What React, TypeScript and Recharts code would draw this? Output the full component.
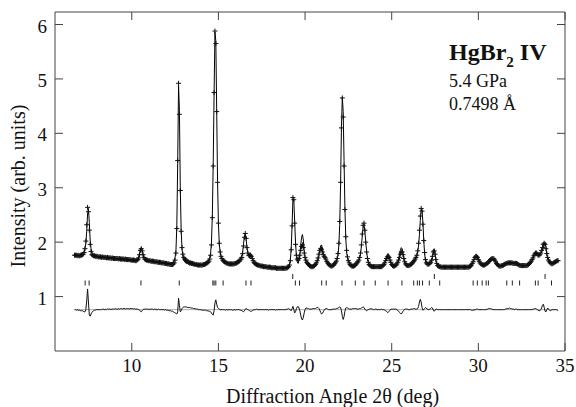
import { ComposedChart, Line, Scatter, XAxis, YAxis, ReferenceLine } from "recharts";

// 2-theta grid of the scan: 6.70 ... 34.60 deg, 0.05 deg steps (one row = 1 deg)
const X_START = 6.7;
const X_STEP = 0.05;

const observed = [
  1.76, 1.76, 1.76, 1.75, 1.76, 1.75, 1.75, 1.76, 1.76, 1.77, 1.78, 1.81, 1.88, 2.02, 2.32, 2.64, 2.56, 2.22, 1.96, 1.83,
  1.77, 1.76, 1.75, 1.75, 1.74, 1.74, 1.74, 1.73, 1.73, 1.73, 1.73, 1.72, 1.73, 1.72, 1.72, 1.72, 1.72, 1.71, 1.72, 1.71,
  1.71, 1.71, 1.71, 1.7, 1.71, 1.7, 1.7, 1.7, 1.7, 1.7, 1.7, 1.69, 1.7, 1.69, 1.69, 1.69, 1.69, 1.69, 1.68, 1.69,
  1.68, 1.68, 1.68, 1.68, 1.68, 1.67, 1.67, 1.67, 1.67, 1.67, 1.66, 1.66, 1.67, 1.68, 1.71, 1.77, 1.85, 1.88, 1.84, 1.77,
  1.72, 1.69, 1.68, 1.67, 1.67, 1.66, 1.66, 1.66, 1.65, 1.65, 1.65, 1.65, 1.64, 1.64, 1.64, 1.64, 1.63, 1.63, 1.63, 1.63,
  1.62, 1.62, 1.62, 1.62, 1.61, 1.61, 1.61, 1.6, 1.6, 1.6, 1.59, 1.59, 1.59, 1.59, 1.6, 1.62, 1.67, 1.8, 2.25, 3.5,
  4.92, 4.35, 2.95, 2.2, 1.9, 1.78, 1.72, 1.69, 1.67, 1.66, 1.65, 1.64, 1.63, 1.62, 1.62, 1.61, 1.61, 1.6, 1.6, 1.59,
  1.59, 1.59, 1.58, 1.58, 1.58, 1.58, 1.58, 1.58, 1.58, 1.59, 1.59, 1.6, 1.61, 1.62, 1.63, 1.65, 1.69, 1.76, 1.95, 2.45,
  3.4, 4.75, 5.88, 5.65, 4.4, 3.1, 2.35, 1.98, 1.82, 1.74, 1.7, 1.67, 1.65, 1.64, 1.63, 1.62, 1.61, 1.61, 1.6, 1.6,
  1.6, 1.6, 1.6, 1.6, 1.6, 1.61, 1.61, 1.62, 1.63, 1.64, 1.65, 1.67, 1.69, 1.72, 1.79, 1.93, 2.09, 2.16, 2.07, 1.9,
  1.8, 1.76, 1.75, 1.76, 1.74, 1.7, 1.66, 1.63, 1.61, 1.6, 1.59, 1.58, 1.58, 1.57, 1.57, 1.56, 1.56, 1.56, 1.55, 1.55,
  1.55, 1.55, 1.54, 1.54, 1.54, 1.54, 1.54, 1.53, 1.53, 1.53, 1.53, 1.53, 1.53, 1.52, 1.52, 1.52, 1.52, 1.52, 1.52, 1.52,
  1.52, 1.52, 1.52, 1.52, 1.52, 1.53, 1.53, 1.55, 1.58, 1.66, 1.86, 2.3, 2.82, 2.78, 2.35, 1.96, 1.76, 1.69, 1.67, 1.7,
  1.76, 1.85, 1.92, 1.95, 1.9, 1.8, 1.72, 1.67, 1.63, 1.61, 1.59, 1.57, 1.56, 1.55, 1.55, 1.55, 1.56, 1.57, 1.59, 1.62,
  1.66, 1.71, 1.78, 1.85, 1.88, 1.87, 1.82, 1.77, 1.74, 1.72, 1.69, 1.65, 1.62, 1.6, 1.58, 1.57, 1.56, 1.56, 1.57, 1.58,
  1.6, 1.62, 1.65, 1.7, 1.79, 1.98, 2.38, 3.1, 4.1, 4.65, 4.3, 3.4, 2.6, 2.1, 1.85, 1.73, 1.66, 1.62, 1.59, 1.57,
  1.56, 1.56, 1.56, 1.57, 1.58, 1.6, 1.62, 1.64, 1.67, 1.72, 1.8, 1.95, 2.15, 2.31, 2.35, 2.22, 2.0, 1.82, 1.7, 1.63,
  1.59, 1.57, 1.56, 1.55, 1.55, 1.55, 1.55, 1.55, 1.55, 1.55, 1.55, 1.55, 1.55, 1.55, 1.55, 1.56, 1.57, 1.59, 1.62, 1.66,
  1.7, 1.73, 1.74, 1.72, 1.67, 1.63, 1.59, 1.57, 1.56, 1.56, 1.57, 1.58, 1.6, 1.63, 1.67, 1.72, 1.78, 1.82, 1.82, 1.77,
  1.7, 1.64, 1.6, 1.58, 1.57, 1.57, 1.57, 1.58, 1.59, 1.6, 1.62, 1.64, 1.66, 1.69, 1.72, 1.76, 1.84, 1.98, 2.22, 2.48,
  2.62, 2.57, 2.33, 2.03, 1.81, 1.68, 1.62, 1.6, 1.59, 1.6, 1.61, 1.63, 1.67, 1.74, 1.82, 1.84, 1.78, 1.68, 1.61, 1.57,
  1.56, 1.55, 1.55, 1.54, 1.54, 1.54, 1.54, 1.54, 1.54, 1.54, 1.54, 1.54, 1.54, 1.54, 1.54, 1.54, 1.54, 1.54, 1.54, 1.54,
  1.54, 1.54, 1.54, 1.54, 1.54, 1.54, 1.54, 1.54, 1.54, 1.54, 1.54, 1.54, 1.54, 1.54, 1.54, 1.54, 1.55, 1.56, 1.58, 1.61,
  1.64, 1.68, 1.72, 1.74, 1.74, 1.72, 1.68, 1.65, 1.62, 1.6, 1.59, 1.58, 1.58, 1.58, 1.59, 1.6, 1.61, 1.62, 1.64, 1.66,
  1.68, 1.69, 1.7, 1.7, 1.69, 1.67, 1.64, 1.61, 1.59, 1.57, 1.56, 1.56, 1.56, 1.57, 1.57, 1.58, 1.59, 1.6, 1.61, 1.61,
  1.62, 1.62, 1.62, 1.62, 1.62, 1.62, 1.61, 1.61, 1.61, 1.61, 1.61, 1.6, 1.59, 1.58, 1.57, 1.57, 1.57, 1.57, 1.57, 1.57,
  1.57, 1.57, 1.57, 1.58, 1.59, 1.61, 1.63, 1.65, 1.68, 1.71, 1.75, 1.78, 1.8, 1.8, 1.78, 1.76, 1.76, 1.77, 1.8, 1.85,
  1.9, 1.96, 1.98, 1.96, 1.88, 1.79, 1.72, 1.67, 1.64, 1.62, 1.61, 1.6, 1.61, 1.62, 1.63, 1.64, 1.65, 1.66, 1.66,
];

const calculated = [
  1.76, 1.76, 1.76, 1.75, 1.76, 1.75, 1.75, 1.76, 1.76, 1.77, 1.79, 1.82, 1.88, 1.98, 2.2, 2.52, 2.62, 2.36, 2.04, 1.88,
  1.8, 1.77, 1.76, 1.75, 1.74, 1.74, 1.74, 1.73, 1.73, 1.73, 1.73, 1.72, 1.72, 1.71, 1.72, 1.72, 1.71, 1.71, 1.71, 1.7,
  1.7, 1.7, 1.71, 1.69, 1.7, 1.69, 1.69, 1.68, 1.69, 1.69, 1.69, 1.67, 1.69, 1.67, 1.67, 1.68, 1.67, 1.67, 1.66, 1.68,
  1.66, 1.66, 1.66, 1.67, 1.66, 1.65, 1.65, 1.65, 1.66, 1.65, 1.65, 1.65, 1.66, 1.67, 1.71, 1.78, 1.88, 1.9, 1.85, 1.77,
  1.71, 1.68, 1.67, 1.66, 1.66, 1.65, 1.66, 1.65, 1.64, 1.64, 1.64, 1.65, 1.63, 1.63, 1.64, 1.64, 1.63, 1.62, 1.63, 1.63,
  1.62, 1.62, 1.62, 1.62, 1.62, 1.61, 1.62, 1.61, 1.61, 1.62, 1.61, 1.61, 1.62, 1.62, 1.64, 1.67, 1.72, 1.85, 2.3, 3.45,
  4.88, 4.42, 3.0, 2.22, 1.88, 1.74, 1.67, 1.64, 1.62, 1.61, 1.61, 1.6, 1.59, 1.58, 1.59, 1.58, 1.58, 1.58, 1.58, 1.57,
  1.58, 1.58, 1.57, 1.58, 1.58, 1.58, 1.58, 1.59, 1.59, 1.6, 1.6, 1.61, 1.63, 1.64, 1.65, 1.68, 1.72, 1.8, 2.0, 2.5,
  3.45, 4.72, 5.86, 5.7, 4.45, 3.12, 2.35, 1.97, 1.82, 1.74, 1.7, 1.67, 1.65, 1.64, 1.64, 1.62, 1.61, 1.62, 1.6, 1.6,
  1.6, 1.6, 1.61, 1.61, 1.6, 1.61, 1.62, 1.62, 1.63, 1.64, 1.65, 1.68, 1.7, 1.74, 1.82, 1.97, 2.11, 2.15, 2.05, 1.89,
  1.8, 1.77, 1.77, 1.79, 1.77, 1.72, 1.67, 1.63, 1.61, 1.6, 1.58, 1.58, 1.58, 1.57, 1.57, 1.56, 1.56, 1.56, 1.55, 1.55,
  1.55, 1.55, 1.54, 1.54, 1.55, 1.54, 1.54, 1.53, 1.53, 1.53, 1.53, 1.53, 1.54, 1.52, 1.52, 1.52, 1.52, 1.52, 1.52, 1.52,
  1.52, 1.52, 1.52, 1.52, 1.52, 1.52, 1.52, 1.53, 1.57, 1.67, 1.88, 2.3, 2.8, 2.78, 2.38, 2.0, 1.74, 1.64, 1.61, 1.67,
  1.78, 1.95, 2.09, 2.14, 2.04, 1.86, 1.72, 1.64, 1.6, 1.59, 1.57, 1.56, 1.55, 1.54, 1.54, 1.53, 1.54, 1.55, 1.57, 1.59,
  1.62, 1.67, 1.76, 1.86, 1.93, 1.95, 1.89, 1.81, 1.75, 1.71, 1.67, 1.63, 1.61, 1.6, 1.58, 1.57, 1.56, 1.56, 1.56, 1.57,
  1.59, 1.61, 1.63, 1.68, 1.76, 1.94, 2.33, 3.06, 4.12, 4.67, 4.4, 3.5, 2.63, 2.07, 1.81, 1.7, 1.64, 1.61, 1.58, 1.56,
  1.55, 1.54, 1.54, 1.55, 1.56, 1.58, 1.61, 1.63, 1.66, 1.7, 1.78, 1.92, 2.11, 2.28, 2.33, 2.21, 2.01, 1.84, 1.71, 1.63,
  1.58, 1.56, 1.54, 1.54, 1.54, 1.55, 1.55, 1.54, 1.54, 1.55, 1.55, 1.55, 1.55, 1.55, 1.54, 1.56, 1.57, 1.59, 1.63, 1.68,
  1.73, 1.78, 1.79, 1.75, 1.68, 1.62, 1.58, 1.56, 1.55, 1.55, 1.56, 1.57, 1.6, 1.64, 1.7, 1.77, 1.85, 1.9, 1.88, 1.8,
  1.71, 1.63, 1.59, 1.57, 1.56, 1.57, 1.57, 1.58, 1.58, 1.59, 1.61, 1.62, 1.64, 1.68, 1.71, 1.75, 1.82, 1.94, 2.14, 2.4,
  2.6, 2.59, 2.36, 2.03, 1.79, 1.64, 1.59, 1.59, 1.59, 1.6, 1.6, 1.61, 1.63, 1.71, 1.83, 1.87, 1.79, 1.67, 1.6, 1.57,
  1.56, 1.55, 1.55, 1.54, 1.54, 1.54, 1.54, 1.54, 1.54, 1.54, 1.54, 1.54, 1.54, 1.54, 1.54, 1.54, 1.54, 1.54, 1.54, 1.54,
  1.54, 1.54, 1.54, 1.54, 1.54, 1.54, 1.54, 1.54, 1.54, 1.54, 1.54, 1.54, 1.54, 1.54, 1.54, 1.54, 1.55, 1.56, 1.59, 1.62,
  1.65, 1.69, 1.72, 1.74, 1.73, 1.71, 1.68, 1.65, 1.62, 1.6, 1.59, 1.58, 1.58, 1.58, 1.59, 1.6, 1.6, 1.61, 1.62, 1.64,
  1.66, 1.68, 1.69, 1.7, 1.69, 1.67, 1.64, 1.61, 1.59, 1.57, 1.56, 1.56, 1.56, 1.57, 1.57, 1.58, 1.59, 1.59, 1.6, 1.59,
  1.6, 1.6, 1.59, 1.6, 1.6, 1.61, 1.6, 1.6, 1.61, 1.6, 1.6, 1.6, 1.59, 1.58, 1.57, 1.57, 1.57, 1.57, 1.57, 1.57,
  1.57, 1.57, 1.57, 1.58, 1.59, 1.6, 1.62, 1.63, 1.66, 1.7, 1.75, 1.79, 1.81, 1.8, 1.8, 1.79, 1.78, 1.79, 1.8, 1.82,
  1.84, 1.9, 1.97, 1.99, 1.92, 1.79, 1.69, 1.66, 1.65, 1.64, 1.62, 1.6, 1.61, 1.62, 1.63, 1.64, 1.65, 1.67, 1.67,
];

// observed - calculated, drawn shifted down to this level
const DIFF_ZERO = 0.76;
const difference = [
  0.76, 0.76, 0.75, 0.76, 0.75, 0.75, 0.75, 0.74, 0.74, 0.74, 0.73, 0.72, 0.72, 0.76, 0.92, 1.14, 0.9, 0.66, 0.64, 0.68,
  0.71, 0.73, 0.74, 0.75, 0.75, 0.76, 0.76, 0.76, 0.76, 0.76, 0.76, 0.76, 0.77, 0.77, 0.76, 0.76, 0.77, 0.76, 0.77, 0.77,
  0.77, 0.77, 0.76, 0.77, 0.77, 0.77, 0.77, 0.78, 0.77, 0.77, 0.77, 0.78, 0.77, 0.78, 0.78, 0.77, 0.78, 0.78, 0.78, 0.77,
  0.78, 0.78, 0.78, 0.77, 0.78, 0.78, 0.78, 0.78, 0.77, 0.78, 0.77, 0.77, 0.77, 0.77, 0.76, 0.75, 0.73, 0.72, 0.74, 0.76,
  0.77, 0.77, 0.77, 0.77, 0.77, 0.77, 0.76, 0.77, 0.77, 0.77, 0.77, 0.76, 0.77, 0.77, 0.76, 0.76, 0.76, 0.77, 0.76, 0.76,
  0.76, 0.76, 0.76, 0.76, 0.75, 0.76, 0.75, 0.75, 0.75, 0.74, 0.74, 0.74, 0.73, 0.73, 0.72, 0.71, 0.7, 0.69, 0.68, 0.72,
  0.97, 0.84, 0.72, 0.74, 0.78, 0.8, 0.81, 0.81, 0.81, 0.81, 0.8, 0.8, 0.8, 0.8, 0.79, 0.79, 0.79, 0.78, 0.78, 0.78,
  0.77, 0.77, 0.77, 0.76, 0.76, 0.76, 0.76, 0.75, 0.75, 0.75, 0.75, 0.75, 0.74, 0.74, 0.74, 0.73, 0.73, 0.72, 0.7, 0.67,
  0.66, 0.74, 0.88, 0.94, 0.86, 0.8, 0.78, 0.77, 0.76, 0.76, 0.76, 0.76, 0.76, 0.76, 0.75, 0.76, 0.76, 0.75, 0.76, 0.76,
  0.76, 0.76, 0.75, 0.75, 0.76, 0.76, 0.75, 0.76, 0.76, 0.76, 0.76, 0.75, 0.75, 0.74, 0.73, 0.72, 0.74, 0.77, 0.78, 0.77,
  0.76, 0.75, 0.74, 0.73, 0.73, 0.74, 0.75, 0.76, 0.76, 0.76, 0.77, 0.76, 0.76, 0.76, 0.76, 0.76, 0.76, 0.76, 0.76, 0.76,
  0.76, 0.76, 0.76, 0.76, 0.75, 0.76, 0.76, 0.76, 0.76, 0.76, 0.76, 0.76, 0.75, 0.76, 0.76, 0.76, 0.76, 0.76, 0.76, 0.76,
  0.76, 0.76, 0.76, 0.76, 0.76, 0.77, 0.77, 0.78, 0.77, 0.75, 0.74, 0.78, 0.82, 0.76, 0.7, 0.72, 0.78, 0.81, 0.82, 0.79,
  0.74, 0.66, 0.59, 0.57, 0.62, 0.7, 0.76, 0.79, 0.79, 0.78, 0.78, 0.77, 0.77, 0.77, 0.77, 0.78, 0.78, 0.78, 0.78, 0.79,
  0.8, 0.8, 0.78, 0.75, 0.71, 0.68, 0.69, 0.72, 0.75, 0.77, 0.78, 0.78, 0.77, 0.76, 0.76, 0.76, 0.76, 0.76, 0.77, 0.77,
  0.77, 0.77, 0.78, 0.78, 0.79, 0.8, 0.81, 0.8, 0.74, 0.64, 0.58, 0.63, 0.73, 0.79, 0.8, 0.79, 0.78, 0.77, 0.77, 0.77,
  0.77, 0.78, 0.78, 0.78, 0.78, 0.78, 0.77, 0.77, 0.77, 0.78, 0.78, 0.79, 0.8, 0.81, 0.8, 0.77, 0.75, 0.74, 0.75, 0.76,
  0.77, 0.77, 0.78, 0.77, 0.77, 0.76, 0.76, 0.77, 0.77, 0.76, 0.76, 0.76, 0.76, 0.76, 0.77, 0.76, 0.76, 0.76, 0.75, 0.74,
  0.73, 0.71, 0.71, 0.73, 0.75, 0.77, 0.77, 0.77, 0.77, 0.77, 0.77, 0.77, 0.76, 0.75, 0.73, 0.71, 0.69, 0.68, 0.7, 0.73,
  0.75, 0.77, 0.77, 0.77, 0.77, 0.76, 0.76, 0.76, 0.77, 0.77, 0.77, 0.78, 0.78, 0.77, 0.77, 0.77, 0.78, 0.82, 0.9, 0.95,
  0.9, 0.8, 0.75, 0.76, 0.78, 0.8, 0.79, 0.77, 0.76, 0.76, 0.77, 0.78, 0.8, 0.79, 0.75, 0.73, 0.75, 0.77, 0.77, 0.76,
  0.76, 0.76, 0.76, 0.76, 0.76, 0.76, 0.76, 0.76, 0.76, 0.76, 0.76, 0.76, 0.76, 0.76, 0.76, 0.76, 0.76, 0.76, 0.76, 0.76,
  0.76, 0.76, 0.76, 0.76, 0.76, 0.76, 0.76, 0.76, 0.76, 0.76, 0.76, 0.76, 0.76, 0.76, 0.76, 0.76, 0.76, 0.76, 0.75, 0.75,
  0.75, 0.75, 0.76, 0.76, 0.77, 0.77, 0.76, 0.76, 0.76, 0.76, 0.76, 0.76, 0.76, 0.76, 0.76, 0.76, 0.77, 0.77, 0.78, 0.78,
  0.78, 0.77, 0.77, 0.76, 0.76, 0.76, 0.76, 0.76, 0.76, 0.76, 0.76, 0.76, 0.76, 0.76, 0.76, 0.76, 0.76, 0.77, 0.77, 0.78,
  0.78, 0.78, 0.79, 0.78, 0.78, 0.77, 0.77, 0.77, 0.76, 0.77, 0.77, 0.76, 0.76, 0.76, 0.76, 0.76, 0.76, 0.76, 0.76, 0.76,
  0.76, 0.76, 0.76, 0.76, 0.76, 0.76, 0.76, 0.76, 0.76, 0.77, 0.77, 0.78, 0.78, 0.77, 0.76, 0.75, 0.74, 0.74, 0.76, 0.79,
  0.84, 0.86, 0.8, 0.73, 0.72, 0.76, 0.79, 0.77, 0.75, 0.74, 0.75, 0.76, 0.76, 0.76, 0.76, 0.76, 0.76, 0.75, 0.75,
];

// Bragg reflection positions (deg)
const reflectionsIV = [
  7.31, 7.54, 10.53, 12.74, 14.68, 14.75, 14.85, 15.27, 16.59, 16.88, 19.44, 19.68, 20.96, 21.22,
  22.13, 22.9, 23.4, 24.05, 24.79, 25.59, 26.27, 26.48, 26.6, 26.78, 27.17, 27.77, 29.7, 29.94,
  30.22, 30.45, 30.58, 31.64, 31.96, 32.38, 33.29, 33.45, 34.22,
];
const reflectionsOther = [19.29, 27.46, 33.85];
const ROW_IV = 1.25;
const ROW_OTHER = 1.37;

const xTicks = [10, 15, 20, 25, 30, 35];
const yTicks = [1, 2, 3, 4, 5, 6];

const X_MIN = 5.57;
const X_MAX = 35;
const Y_MAX = 6.23;

// plot box is 510 x 339 px; inner tick marks are 8 px long
const X_TICK_LEN = (8 * (X_MAX - X_MIN)) / 510;
const Y_TICK_LEN = (8 * Y_MAX) / 339;

const toPoints = (values: number[]) =>
  values.map((y, i) => ({ x: +(X_START + i * X_STEP).toFixed(2), y }));

const obsPoints = toPoints(observed);
const calcPoints = toPoints(calculated);
const diffPoints = toPoints(difference);
const reflIV = reflectionsIV.map((x) => ({ x, y: ROW_IV }));
const reflOther = reflectionsOther.map((x) => ({ x, y: ROW_OTHER }));

const AXIS = "#444";
const FONT = '"Liberation Serif", "Times New Roman", serif';

const Cross = (props: any) => {
  const { cx, cy } = props;
  return (
    <g stroke="#111" strokeWidth={1}>
      <line x1={cx - 2.5} y1={cy} x2={cx + 2.5} y2={cy} />
      <line x1={cx} y1={cy - 2.5} x2={cx} y2={cy + 2.5} />
    </g>
  );
};

const Bar = (props: any) => (
  <line x1={props.cx} y1={props.cy - 2.5} x2={props.cx} y2={props.cy + 2.5} stroke="#222" />
);

const bottomTick = ({ x, y, payload }: any) => (
  <text x={x} y={y + 21} textAnchor="middle" fontSize={19} fill="#111" fontFamily={FONT}>
    {payload.value}
  </text>
);
const leftTick = ({ x, y, payload }: any) => (
  <text x={x - 8} y={y + 8} textAnchor="end" fontSize={19} fill="#111" fontFamily={FONT}>
    {payload.value}
  </text>
);

export default function App() {
  return (
    <div style={{ position: "absolute", left: 0, top: 0, width: 576, height: 407, background: "#fff" }}>
      <ComposedChart width={576} height={407} margin={{ top: 12, right: 11, bottom: 0, left: 0 }}>
        <XAxis
          type="number"
          dataKey="x"
          domain={[X_MIN, X_MAX]}
          ticks={xTicks}
          allowDataOverflow
          height={56}
          tickSize={0}
          tickMargin={0}
          tickLine={false}
          tick={bottomTick}
          axisLine={{ stroke: AXIS }}
        />
        <YAxis
          type="number"
          dataKey="y"
          domain={[0, Y_MAX]}
          ticks={yTicks}
          allowDataOverflow
          width={55}
          tickSize={0}
          tickMargin={0}
          tickLine={false}
          tick={leftTick}
          axisLine={{ stroke: AXIS }}
        />
        {/* closing frame: top and right edges */}
        <ReferenceLine y={Y_MAX} stroke={AXIS} />
        <ReferenceLine x={X_MAX} stroke={AXIS} />
        {/* inward tick marks on all four sides */}
        {xTicks.map((t) => (
          <ReferenceLine
            key={`xb${t}`}
            segment={[
              { x: t, y: 0 },
              { x: t, y: Y_TICK_LEN },
            ]}
            stroke={AXIS}
          />
        ))}
        {xTicks.map((t) => (
          <ReferenceLine
            key={`xt${t}`}
            segment={[
              { x: t, y: Y_MAX },
              { x: t, y: Y_MAX - Y_TICK_LEN },
            ]}
            stroke={AXIS}
          />
        ))}
        {yTicks.map((t) => (
          <ReferenceLine
            key={`yl${t}`}
            segment={[
              { x: X_MIN, y: t },
              { x: X_MIN + X_TICK_LEN, y: t },
            ]}
            stroke={AXIS}
          />
        ))}
        {yTicks.map((t) => (
          <ReferenceLine
            key={`yr${t}`}
            segment={[
              { x: X_MAX, y: t },
              { x: X_MAX - X_TICK_LEN, y: t },
            ]}
            stroke={AXIS}
          />
        ))}
        <ReferenceLine
          segment={[
            { x: X_START, y: DIFF_ZERO },
            { x: 34.6, y: DIFF_ZERO },
          ]}
          stroke="#999"
          strokeWidth={0.8}
        />
        <Scatter data={obsPoints} shape={Cross} isAnimationActive={false} />
        <Line
          data={calcPoints}
          dataKey="y"
          stroke="#000"
          strokeWidth={1}
          dot={false}
          type="linear"
          isAnimationActive={false}
        />
        <Line
          data={diffPoints}
          dataKey="y"
          stroke="#111"
          strokeWidth={1}
          dot={false}
          type="linear"
          isAnimationActive={false}
        />
        <Scatter data={reflIV} shape={Bar} isAnimationActive={false} />
        <Scatter data={reflOther} shape={Bar} isAnimationActive={false} />
      </ComposedChart>
      <svg
        width={576}
        height={407}
        style={{ position: "absolute", left: 0, top: 0, pointerEvents: "none" }}
        fontFamily={FONT}
        fill="#111"
      >
        <text x={449} y={60} fontSize={24} fontWeight="bold">
          HgBr
          <tspan fontSize={15} dy={7}>2</tspan>
          <tspan dy={-7}> IV</tspan>
        </text>
        <text x={449} y={87} fontSize={18}>5.4 GPa</text>
        <text x={449} y={110} fontSize={18}>0.7498 Å</text>
        <text x={226} y={403} fontSize={20}>Diffraction Angle 2θ (deg)</text>
        <text x={25} y={186} fontSize={20} textAnchor="middle" transform="rotate(-90 25 186)">
          Intensity (arb. units)
        </text>
      </svg>
    </div>
  );
}
